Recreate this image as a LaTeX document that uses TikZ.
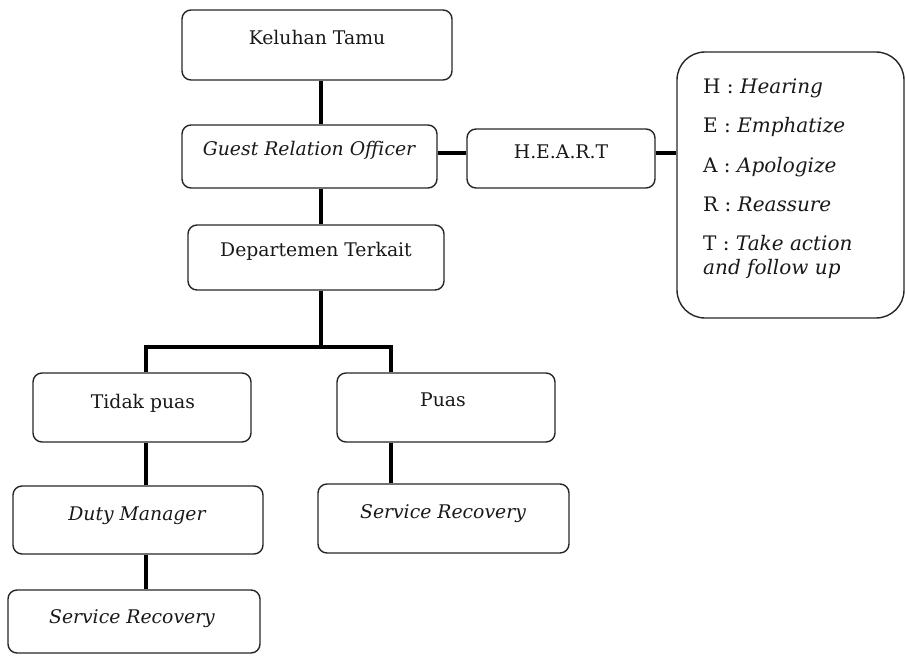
\documentclass[tikz,border=0pt]{standalone}
\usepackage{fontspec}
\setmainfont{DejaVu Serif}
\begin{document}
\begin{tikzpicture}[x=1pt,y=-1pt,
  box/.style={draw=black!85, line width=1.4pt, rounded corners=9pt, inner sep=0pt},
  bigbox/.style={draw=black!85, line width=1.4pt, rounded corners=28pt, inner sep=0pt},
  lbl/.style={anchor=base, inner sep=0pt, font=\fontsize{18.8}{22}\selectfont, text=black!90},
  item/.style={anchor=base west, inner sep=0pt, font=\fontsize{20}{23}\selectfont, text=black!90},
  conn/.style={line width=4.5pt, black}]
\useasboundingbox (0,0) rectangle (906,656);
% boxes (named, positioned by centre, sized in px)
\node[box, minimum width=270pt, minimum height=70pt] (kel) at (317,45) {};
\node[box, minimum width=255pt, minimum height=63pt] (gro) at (309.5,156.5) {};
\node[box, minimum width=188pt, minimum height=59pt] (heart) at (561,158.5) {};
\node[bigbox, minimum width=227pt, minimum height=266pt] (big) at (790.5,185) {};
\node[box, minimum width=256pt, minimum height=65pt] (dept) at (316,257.5) {};
\node[box, minimum width=218pt, minimum height=69pt] (tidak) at (142,407.5) {};
\node[box, minimum width=218pt, minimum height=69pt] (puas) at (446,407.5) {};
\node[box, minimum width=250pt, minimum height=68pt] (dm) at (138,520) {};
\node[box, minimum width=251pt, minimum height=69pt] (srr) at (443.5,518.5) {};
\node[box, minimum width=252pt, minimum height=63pt] (srl) at (134,621.5) {};
% texts
\node[lbl] (kel-t) at (317,44) {Keluhan Tamu};
\node[lbl] (gro-t) at (309,155) {\itshape Guest Relation Officer};
\node[lbl] (heart-t) at (561,158) {H.E.A.R.T};
\node[lbl] (dept-t) at (316,256) {Departemen Terkait};
\node[lbl] (tidak-t) at (143,408) {Tidak puas};
\node[lbl] (puas-t) at (443,406) {Puas};
\node[lbl] (dm-t) at (137,520) {\itshape Duty Manager};
\node[lbl] (srr-t) at (443,518) {\itshape Service Recovery};
\node[lbl] (srl-t) at (132,623) {\itshape Service Recovery};
\node[item] (h-t) at (703,93) {H : \textit{Hearing}};
\node[item] (e-t) at (703,132) {E : \textit{Emphatize}};
\node[item] (a-t) at (703,172) {A : \textit{Apologize}};
\node[item] (r-t) at (703,211) {R : \textit{Reassure}};
\node[item] (t-t) at (703,250) {T : \textit{Take action}};
\node[item] (f-t) at (703,274) {\textit{and follow up}};
% connector guide coordinates
\coordinate (spine) at (321,0);
\coordinate (lcol) at (146,0);
\coordinate (rcol) at (391,0);
\coordinate (hline) at (0,153);
\coordinate (split) at (321,347);
% connectors
\draw[conn] (kel.south -| spine) -- (gro.north -| spine);
\draw[conn] (gro.south -| spine) -- (dept.north -| spine);
\draw[conn] (gro.east |- hline) -- (heart.west |- hline);
\draw[conn] (heart.east |- hline) -- (big.west |- hline);
\draw[conn] (dept.south -| spine) -- (split);
\draw[conn] (tidak.north -| lcol) |- (split) -| (puas.north -| rcol);
\draw[conn] (tidak.south -| lcol) -- (dm.north -| lcol);
\draw[conn] (dm.south -| lcol) -- (srl.north -| lcol);
\draw[conn] (puas.south -| rcol) -- (srr.north -| rcol);
\end{tikzpicture}
\end{document}
